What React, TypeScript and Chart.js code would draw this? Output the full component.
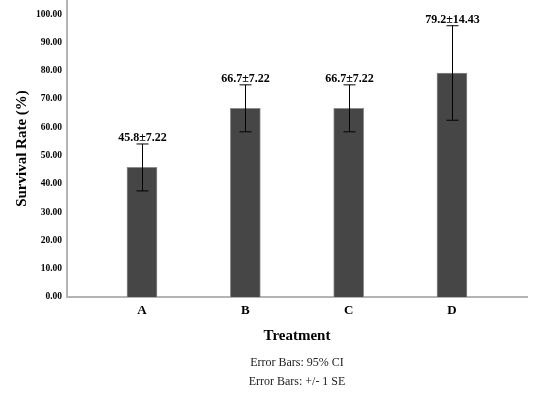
import React, { useEffect, useRef } from "react";
import { Chart, registerables } from "chart.js";

Chart.register(...registerables);

const categories = ["A", "B", "C", "D"];
const survival = [45.8, 66.7, 66.7, 79.2];
const errorHalf = [8.3, 8.3, 8.3, 16.7];
const seText = ["7.22", "7.22", "7.22", "14.43"];
const yTicks = [0, 10, 20, 30, 40, 50, 60, 70, 80, 90, 100];
const footnotes = ["Error Bars: 95% CI", "Error Bars: +/- 1 SE"];

const SERIF = "'Liberation Serif', 'Times New Roman', serif";

const errorPlugin = {
  id: "errorBarsAndNotes",
  afterDatasetsDraw(chart: any) {
    const ctx = chart.ctx;
    const xs = chart.scales.x;
    const ys = chart.scales.y;
    ctx.save();
    ctx.strokeStyle = "#000000";
    ctx.lineWidth = 1;
    survival.forEach((v, i) => {
      const x = Math.round(xs.getPixelForValue(i)) + 0.5;
      const top = ys.getPixelForValue(v + errorHalf[i]);
      const bot = ys.getPixelForValue(v - errorHalf[i]);
      ctx.beginPath();
      ctx.moveTo(x, top);
      ctx.lineTo(x, bot);
      ctx.moveTo(x - 6, top);
      ctx.lineTo(x + 6, top);
      ctx.moveTo(x - 6, bot);
      ctx.lineTo(x + 6, bot);
      ctx.stroke();
      ctx.fillStyle = "#000000";
      ctx.font = `bold 12px ${SERIF}`;
      ctx.textAlign = "center";
      ctx.textBaseline = "alphabetic";
      ctx.fillText(`${v.toFixed(1)}±${seText[i]}`, x, top - 3);
    });
    const cx = (chart.chartArea.left + chart.chartArea.right) / 2;
    ctx.font = `12px ${SERIF}`;
    ctx.fillStyle = "#222222";
    ctx.textAlign = "center";
    ctx.textBaseline = "middle";
    footnotes.forEach((t, k) => {
      ctx.fillText(t, cx, chart.chartArea.bottom + 66 + k * 19);
    });
    ctx.restore();
  },
};

export default function App() {
  const ref = useRef<HTMLCanvasElement | null>(null);
  useEffect(() => {
    if (!ref.current) return;
    const chart = new Chart(ref.current, {
      type: "bar",
      data: {
        datasets: [
          {
            data: survival.map((v, i) => ({ x: i, y: v })),
            backgroundColor: "#464646",
            borderColor: "#8c8c8c",
            borderWidth: 1,
            barThickness: 30,
          },
        ],
      },
      options: {
        animation: false,
        responsive: false,
        layout: { autoPadding: false, padding: { left: 0, right: 6, top: 0, bottom: 49 } },
        plugins: {
          legend: { display: false },
          tooltip: { enabled: false },
        },
        scales: {
          x: {
            type: "linear",
            offset: false,
            min: -0.726,
            max: 3.726,
            grid: { display: false, drawTicks: false, offset: false },
            border: { display: true, color: "#b4b4b4", width: 2 },
            afterBuildTicks: (s: any) => {
              s.ticks = categories.map((_, i) => ({ value: i }));
            },
            afterFit: (s: any) => {
              s.height = 48;
              s.paddingLeft = 0;
              s.paddingRight = 0;
            },
            ticks: {
              autoSkip: false,
              maxRotation: 0,
              padding: 6,
              color: "#000000",
              font: { family: SERIF, size: 13, weight: "bold" },
              callback: (v: any) => categories[v] ?? "",
            },
            title: {
              display: true,
              text: "Treatment",
              color: "#000000",
              padding: { top: 0, bottom: 0 },
              font: { family: SERIF, size: 15, weight: "bold" },
            },
          },
          y: {
            min: 0,
            max: 105,
            grid: { display: false, drawTicks: false },
            border: { display: true, color: "#b4b4b4", width: 2 },
            afterBuildTicks: (s: any) => {
              s.ticks = yTicks.map((v) => ({ value: v }));
            },
            afterFit: (s: any) => {
              s.width = 67;
              s.paddingTop = 0;
              s.paddingBottom = 0;
            },
            ticks: {
              padding: 5,
              color: "#000000",
              font: { family: SERIF, size: 9.5, weight: "bold" },
              callback: (v: any) => Number(v).toFixed(2),
            },
            title: {
              display: true,
              text: "Survival Rate (%)",
              color: "#000000",
              padding: { top: 13, bottom: 0 },
              font: { family: SERIF, size: 15, weight: "bold" },
            },
          },
        },
      },
      plugins: [errorPlugin],
    } as any);
    return () => chart.destroy();
  }, []);
  return (
    <div style={{ position: "absolute", left: 0, top: 0, width: 533, height: 394, background: "#ffffff" }}>
      <canvas ref={ref} width={533} height={394} style={{ display: "block" }} />
    </div>
  );
}
